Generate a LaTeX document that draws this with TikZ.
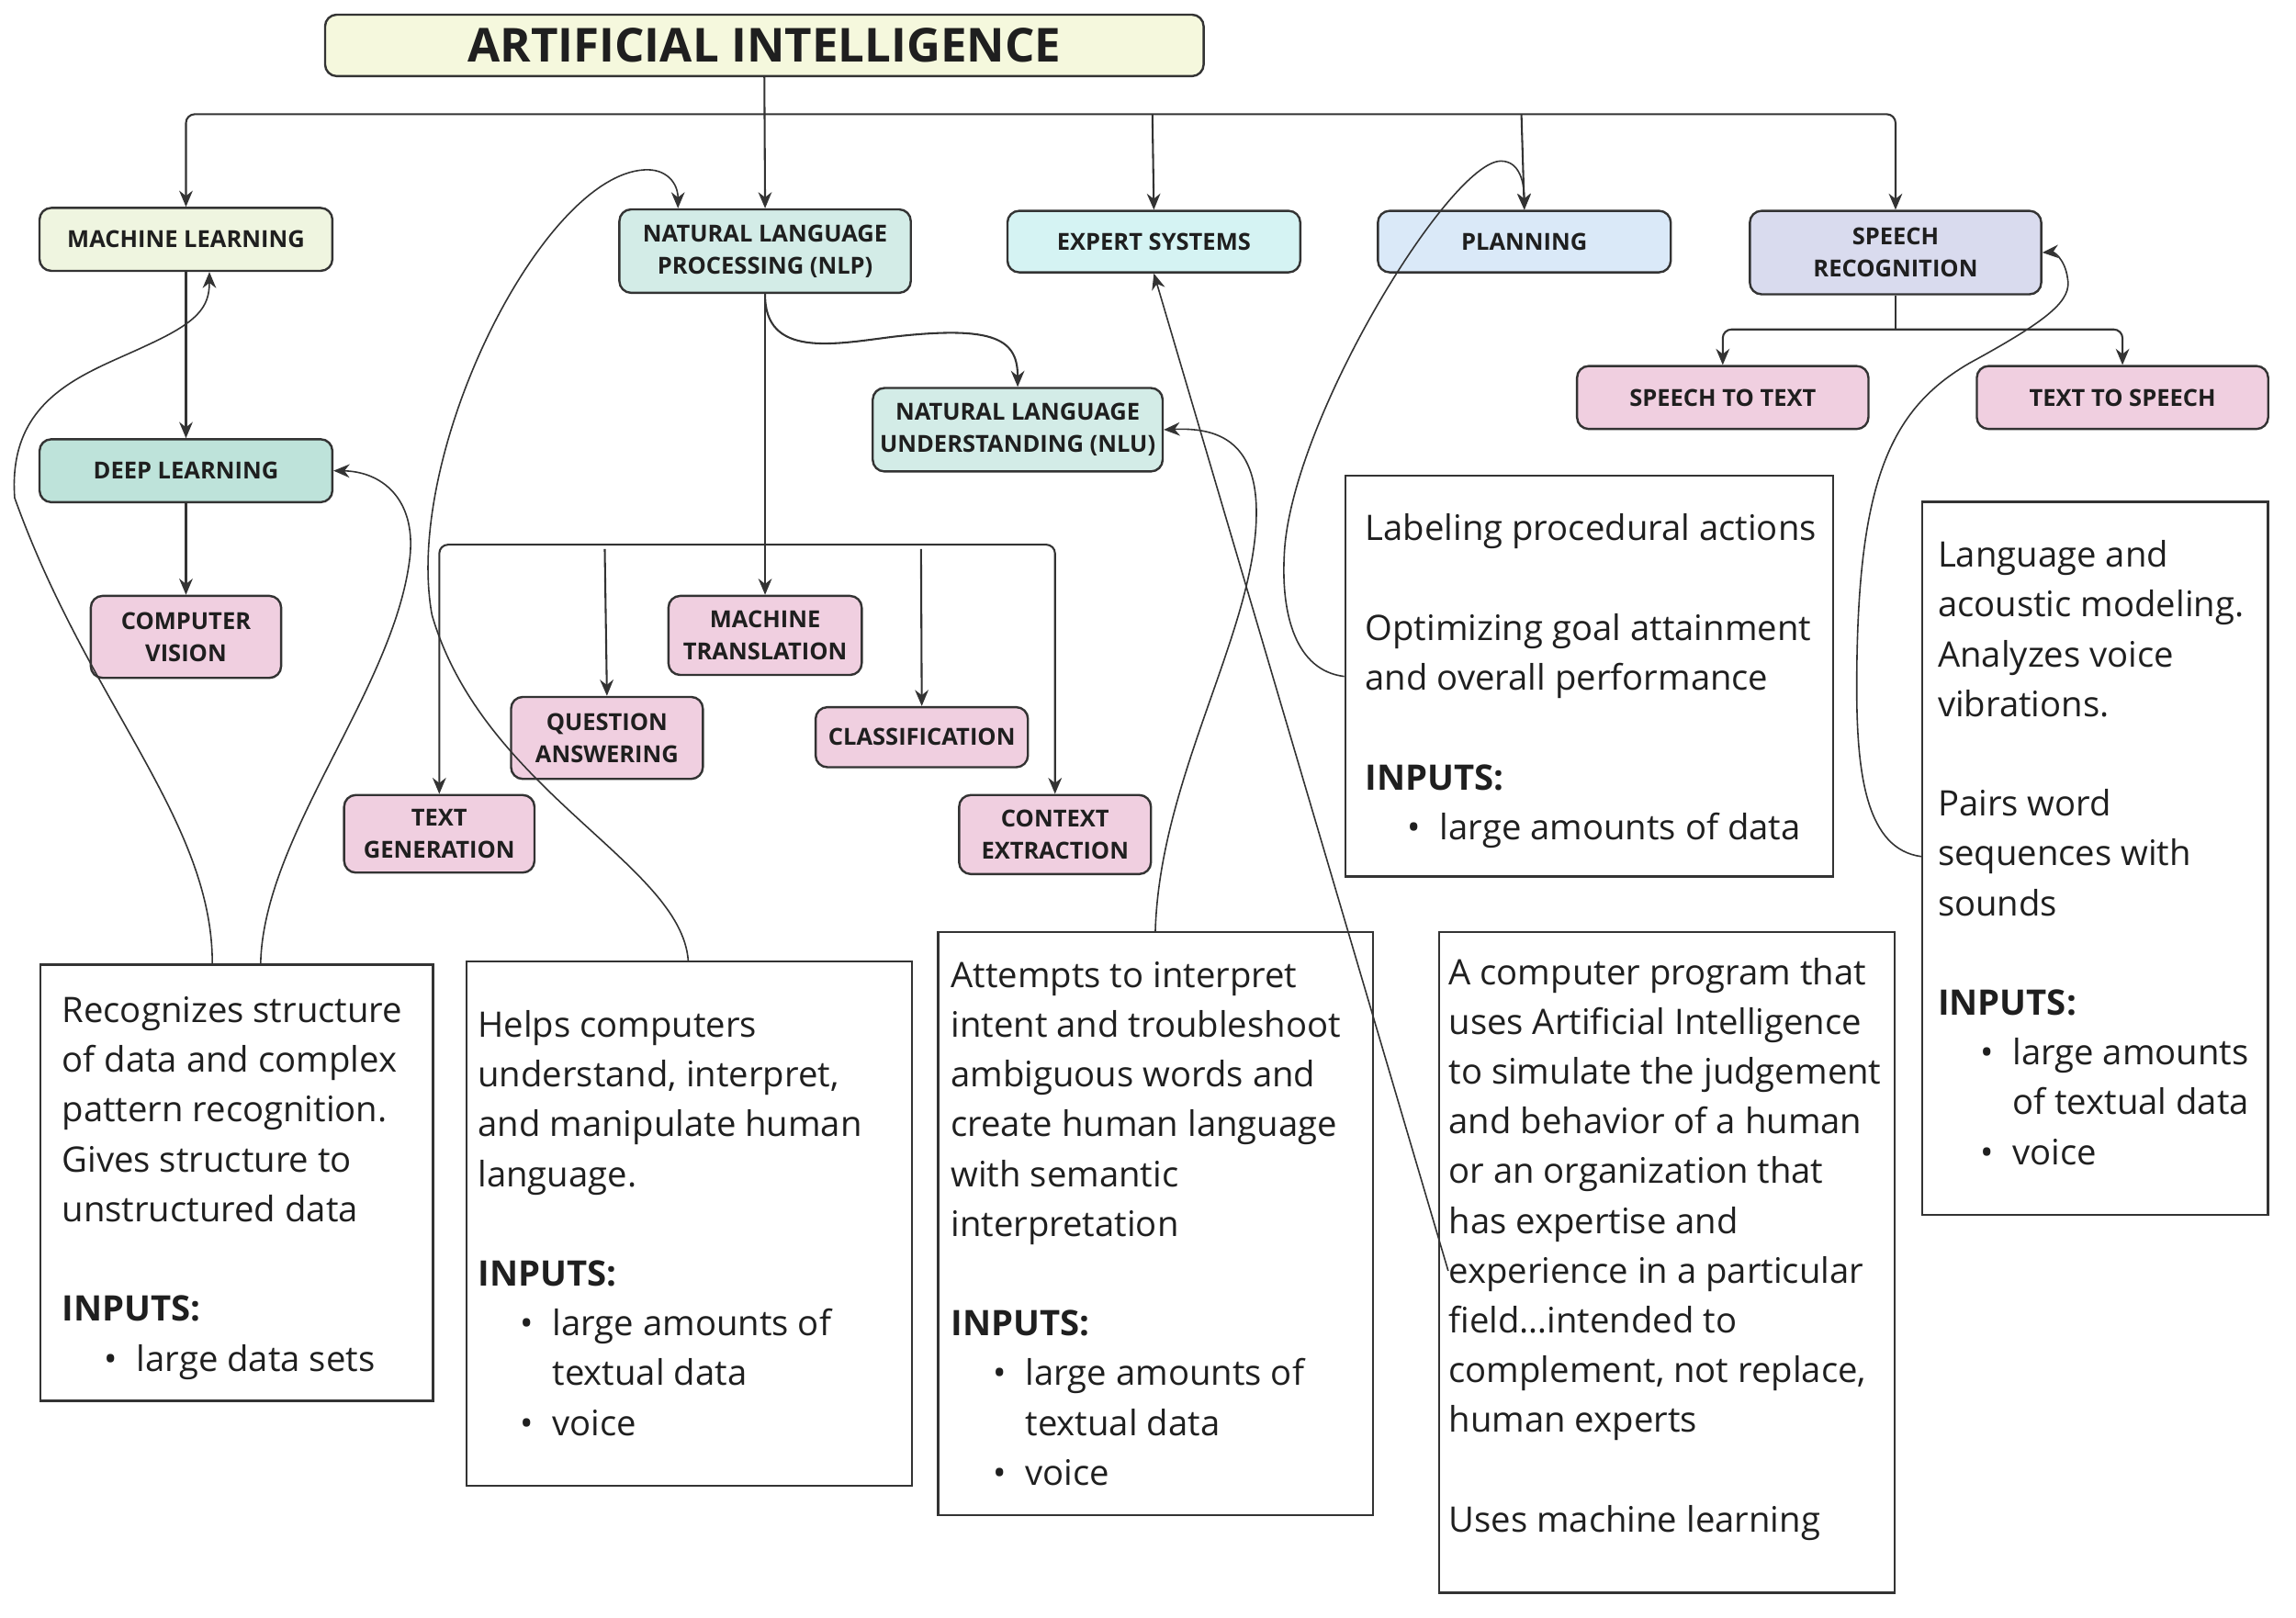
\documentclass[tikz,border=0pt]{standalone}
\usepackage{fontspec}
\setmainfont{Open Sans}
\usetikzlibrary{arrows.meta,calc}
\definecolor{titlefill}{HTML}{F5F8DD}
\definecolor{mlfill}{HTML}{EFF5E0}
\definecolor{nlpfill}{HTML}{D3ECE7}
\definecolor{esfill}{HTML}{D5F3F3}
\definecolor{planfill}{HTML}{DAE9F8}
\definecolor{srfill}{HTML}{D9DBEE}
\definecolor{pinkfill}{HTML}{F0CFE0}
\definecolor{dlfill}{HTML}{BEE3DA}
\definecolor{linec}{HTML}{333333}
\definecolor{textc}{HTML}{1F1F1F}
\newcommand{\myitem}[1]{\makebox[25.5pt][l]{\hspace{14.5pt}•}#1}
\newcommand{\mycont}[1]{\hspace*{25.5pt}#1}
\begin{document}
\begin{tikzpicture}[x=0.5pt,y=-0.5pt,
  nodebox/.style={draw=linec, line width=0.75pt, rounded corners=4pt,
    font=\fontsize{8}{11}\selectfont\bfseries, text=textc, align=center, inner sep=0pt},
  descbox/.style={draw=linec, line width=0.75pt, inner sep=0pt, anchor=north west},
  desctext/.style={inner sep=0pt, anchor=north west, align=left,
    font=\fontsize{12}{17}\selectfont, text=textc},
  conn/.style={draw=linec, line width=0.65pt},
  arr/.style={conn, -{Stealth[length=5.5pt,width=4.6pt]}},
  curve/.style={draw=linec, line width=0.5pt, -{Stealth[length=5.5pt,width=4.6pt]}}]
\useasboundingbox (0,0) rectangle (1568,1104.5);

% main nodes
\node[nodebox, fill=titlefill, minimum width=300pt, minimum height=21pt,
  font=\fontsize{16}{19}\selectfont\bfseries] (title) at (522,31) {\raisebox{-0.8pt}{ARTIFICIAL INTELLIGENCE}};
\node[nodebox, fill=mlfill, minimum width=100pt, minimum height=21.5pt] (ml) at (127,163.5) {MACHINE LEARNING};
\node[nodebox, fill=nlpfill, minimum width=99.5pt, minimum height=28.5pt] (nlp) at (522.5,171.5) {NATURAL LANGUAGE\\PROCESSING (NLP)};
\node[nodebox, fill=esfill, minimum width=100pt, minimum height=21pt] (es) at (788,165) {EXPERT SYSTEMS};
\node[nodebox, fill=planfill, minimum width=100pt, minimum height=21pt] (plan) at (1041,165) {PLANNING};
\node[nodebox, fill=srfill, minimum width=99.5pt, minimum height=28.5pt] (sr) at (1294.5,172.5) {SPEECH\\RECOGNITION};
\node[nodebox, fill=pinkfill, minimum width=99.5pt, minimum height=21.5pt] (stt) at (1176.5,271.5) {SPEECH TO TEXT};
\node[nodebox, fill=pinkfill, minimum width=99.5pt, minimum height=21.5pt] (tts) at (1449.5,271.5) {TEXT TO SPEECH};
\node[nodebox, fill=nlpfill, minimum width=99pt, minimum height=28.5pt] (nlu) at (695,293.5) {NATURAL LANGUAGE\\UNDERSTANDING (NLU)};
\node[nodebox, fill=dlfill, minimum width=100pt, minimum height=21.5pt] (dl) at (127,321.5) {DEEP LEARNING};
\node[nodebox, fill=pinkfill, minimum width=65pt, minimum height=28pt] (cv) at (127,435) {COMPUTER\\VISION};
\node[nodebox, fill=pinkfill, minimum width=66pt, minimum height=27pt] (mt) at (522.5,434) {MACHINE\\TRANSLATION};
\node[nodebox, fill=pinkfill, minimum width=65.5pt, minimum height=28pt] (qa) at (414.5,504) {QUESTION\\ANSWERING};
\node[nodebox, fill=pinkfill, minimum width=72.5pt, minimum height=20.5pt] (cls) at (629.5,503.5) {CLASSIFICATION};
\node[nodebox, fill=pinkfill, minimum width=65pt, minimum height=26.5pt] (tg) at (300,569.5) {TEXT\\GENERATION};
\node[nodebox, fill=pinkfill, minimum width=65.5pt, minimum height=27pt] (ce) at (720.5,570) {CONTEXT\\EXTRACTION};

% description boxes
\node[descbox, minimum width=134pt, minimum height=149pt] (mlbox) at (27,658) {};
\node[descbox, minimum width=152pt, minimum height=179pt] (nlpbox) at (318,656) {};
\node[descbox, minimum width=148.5pt, minimum height=199pt] (nlubox) at (640,636) {};
\node[descbox, minimum width=155.5pt, minimum height=225.5pt] (esbox) at (982,636) {};
\node[descbox, minimum width=166.5pt, minimum height=137pt] (planbox) at (918,324) {};
\node[descbox, minimum width=118pt, minimum height=243.5pt] (srbox) at (1312,342) {};

\node[desctext] (mltext) at (42,674.2) {\strut Recognizes structure\\of data and complex\\pattern recognition.\\Gives structure to\\unstructured data\\[17pt]\textbf{INPUTS:}\\\myitem{large data sets}};
\node[desctext] (nlptext) at (326,684.2) {\strut Helps computers\\understand, interpret,\\and manipulate human\\language.\\[17pt]\textbf{INPUTS:}\\\myitem{large amounts of}\\\mycont{textual data}\\\myitem{voice}};
\node[desctext] (nlutext) at (649,650.2) {\strut Attempts to interpret\\intent and troubleshoot\\ambiguous words and\\create human language\\with semantic\\interpretation\\[17pt]\textbf{INPUTS:}\\\myitem{large amounts of}\\\mycont{textual data}\\\myitem{voice}};
\node[desctext] (estext) at (989,648.2) {\strut A computer program that\\uses Artificial Intelligence\\to simulate the judgement\\and behavior of a human\\or an organization that\\has expertise and\\experience in a particular\\field…intended to\\complement, not replace,\\human experts\\[17pt]Uses machine learning};
\node[desctext] (plantext) at (932,345.2) {\strut Labeling procedural actions\\[17pt]Optimizing goal attainment\\and overall performance\\[17pt]\textbf{INPUTS:}\\\myitem{large amounts of data}};
\node[desctext] (srtext) at (1323,363.2) {\strut Language and\\acoustic modeling.\\Analyzes voice\\vibrations.\\[17pt]Pairs word\\sequences with\\sounds\\[17pt]\textbf{INPUTS:}\\\myitem{large amounts}\\\mycont{of textual data}\\\myitem{voice}};

% top tree
\coordinate (bus) at (522,78);
\draw[arr, rounded corners=3pt] (bus) -| (ml.north);
\draw[arr, rounded corners=3pt] (bus) -| (sr.north);
\draw[arr] (title.south) -- (nlp.north);
\coordinate (esdrop) at (787,78);
\draw[arr] (esdrop) -- (es.north);
\coordinate (pldrop) at (1039,78);
\draw[arr] (pldrop) -- (plan.north);

% ML subtree
\draw[arr] (ml.south) -- (dl.north);
\draw[arr] (dl.south) -- (cv.north);

% NLP subtree
\coordinate (nlpbus) at (522.5,372);
\draw[conn] (nlp.south) -- (nlpbus);
\draw[arr, rounded corners=3pt] (nlpbus) -| (tg.north);
\draw[arr, rounded corners=3pt] (nlpbus) -| (ce.north);
\draw[arr] (nlpbus) -- (mt.north);
\coordinate (qadrop) at (413,375);
\draw[arr] (qadrop) -- (qa.north);
\coordinate (cldrop) at (629,375);
\draw[arr] (cldrop) -- (cls.north);
\draw[arr] (nlp.south) .. controls (522,245) and (570,235) .. (610,230) .. controls (680,222) and (695,232) .. (nlu.north);

% speech subtree
\coordinate (srsplit) at (1294.5,225);
\draw[conn] (sr.south) -- (srsplit);
\draw[arr, rounded corners=3pt] (srsplit) -| (stt.north);
\draw[arr, rounded corners=3pt] (srsplit) -| (tts.north);

% curved links from descriptions
\draw[curve] ($(mlbox.north west)+(118,0)$) .. controls (145,560) and (60,480) .. (10,340) .. controls (5,270) and (60,255) .. (100,236) .. controls (135,220) and (143,210) .. ($(ml.south)+(16,0)$);
\draw[curve] ($(mlbox.north west)+(151,0)$) .. controls (180,570) and (270,470) .. (280,380) .. controls (284,340) and (260,322) .. (dl.east);
\draw[curve] ($(nlpbox.north west)+(152,0)$) .. controls (465,590) and (330,540) .. (295,420) .. controls (275,310) and (370,120) .. (440,116) .. controls (455,115) and (463,125) .. ($(nlp.north)+(-59.5,0)$);
\draw[curve] ($(nlubox.north west)+(149,0)$) .. controls (792,530) and (858,430) .. (858,350) .. controls (858,300) and (830,292) .. (nlu.east);
\draw[curve] ($(esbox.north west)+(7,232)$) -- (es.south);
\draw[curve] ($(planbox.north west)+(0,138)$) .. controls (885,458) and (875,420) .. (877,380) .. controls (880,290) and (990,110) .. (1025,110) .. controls (1038,110) and (1041,125) .. (plan.north);
\draw[curve] ($(srbox.north west)+(0,243)$) .. controls (1275,580) and (1268,530) .. (1268,470) .. controls (1268,330) and (1290,280) .. (1345,248) .. controls (1400,218) and (1415,205) .. (1412,190) .. controls (1410,176) and (1402,172) .. (sr.east);
\end{tikzpicture}
\end{document}
